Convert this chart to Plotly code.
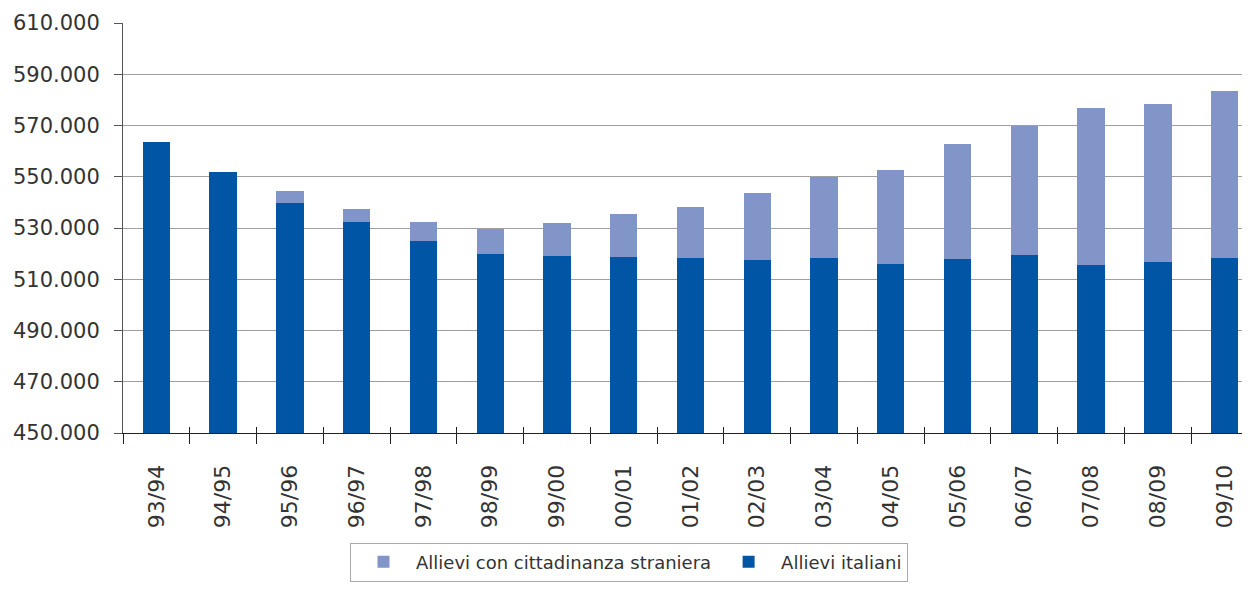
import plotly.graph_objects as go

categories = ["93/94", "94/95", "95/96", "96/97", "97/98", "98/99", "99/00", "00/01",
              "01/02", "02/03", "03/04", "04/05", "05/06", "06/07", "07/08", "08/09", "09/10"]
italiani = [563400, 551700, 539600, 532150, 525100, 520040, 519260, 518870,
            518480, 517700, 518480, 516140, 518090, 519650, 515750, 516920, 518480]
totale = [563400, 551700, 544260, 537230, 532150, 529420, 531760, 535280,
          538010, 543480, 549850, 552460, 562620, 569920, 576680, 578240, 583320]
stranieri = [t - i for t, i in zip(totale, italiani)]

dark = "#0055A4"
light = "#8195C8"
font_family = "DejaVu Sans"
txt = "#333333"

fig = go.Figure()
fig.add_trace(go.Bar(x=categories, y=italiani, name="Allievi italiani",
                     marker=dict(color=dark, line=dict(width=0))))
fig.add_trace(go.Bar(x=categories, y=stranieri, name="Allievi con cittadinanza straniera",
                     marker=dict(color=light, line=dict(width=0))))
# invisible trace for the overlay axis (inside tick marks)
fig.add_trace(go.Scatter(x=categories, y=[450000] * len(categories), xaxis="x2",
                         mode="markers", marker=dict(opacity=0), showlegend=False,
                         hoverinfo="skip"))

xr = [-0.5, len(categories) - 0.5]

fig.update_layout(
    width=1250, height=590,
    margin=dict(l=115, r=0, t=15, b=165),
    barmode="stack", bargap=0.59,
    plot_bgcolor="white", paper_bgcolor="white",
    separators=",.",
    font=dict(family=font_family, color=txt),
    legend=dict(orientation="h", xref="container", yref="container",
                x=0.2736, y=0.094, xanchor="left", yanchor="top",
                traceorder="reversed", bordercolor="#aaaaaa", borderwidth=1,
                itemwidth=55,
                font=dict(size=18, color=txt), bgcolor="white"),
    xaxis=dict(type="category", range=xr, autorange=False, automargin=False,
               tickson="boundaries", ticks="outside", ticklen=10,
               tickcolor="#222", tickwidth=1, tickangle=-90,
               tickfont=dict(size=22, color=txt), showline=True, linecolor="#222",
               linewidth=1, showgrid=False, ticklabelstandoff=22),
    xaxis2=dict(type="category", overlaying="x", range=xr, autorange=False,
                automargin=False, tickson="boundaries",
                ticks="inside", ticklen=6, tickcolor="#222", showticklabels=False,
                showgrid=False, showline=False),
    yaxis=dict(range=[450000, 610000], autorange=False, tick0=450000, dtick=20000,
               tickformat=",d", automargin=False,
               ticks="outside", ticklen=8, tickcolor="#555", showline=True,
               linecolor="#555", linewidth=1, gridcolor="#a0a0a0", gridwidth=1,
               tickfont=dict(size=21, color=txt), zeroline=False,
               ticklabelstandoff=10),
)

fig.write_html("out.html")
